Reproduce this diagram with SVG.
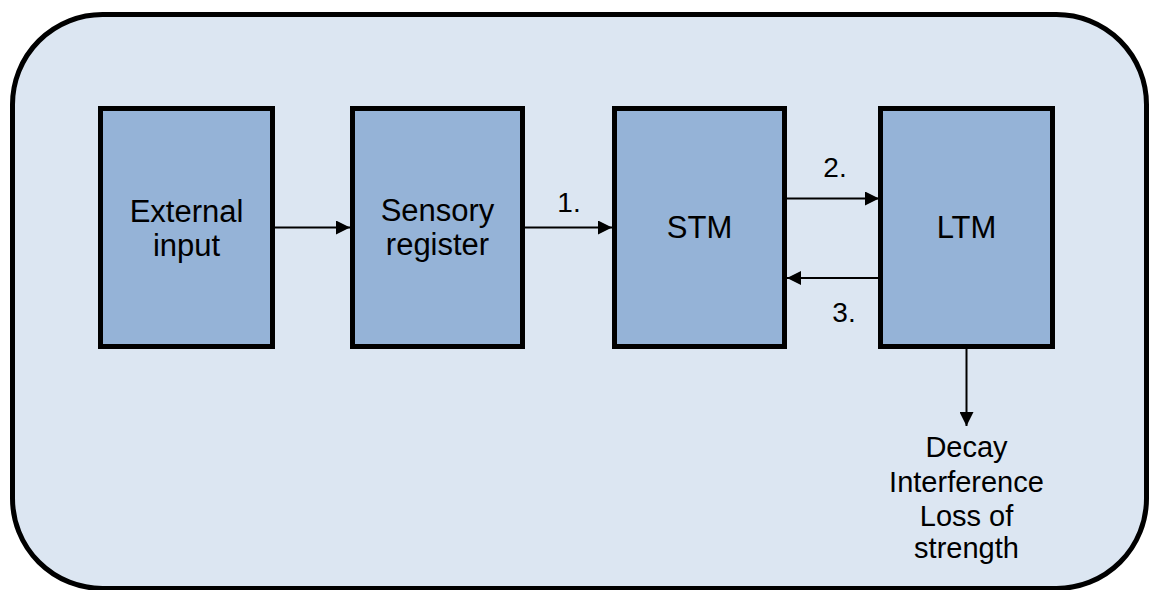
<svg xmlns="http://www.w3.org/2000/svg" width="1149" height="590" viewBox="0 0 1149 590">
<style>
.box{fill:#95b3d7;stroke:#000;stroke-width:5}
.lbl{font-family:"Liberation Sans",Arial,sans-serif;font-size:31px;fill:#000;text-anchor:middle}
.num{font-family:"Liberation Sans",Arial,sans-serif;font-size:28px;fill:#000;text-anchor:middle}
.out{font-family:"Liberation Sans",Arial,sans-serif;font-size:29px;fill:#000;text-anchor:middle}
.con{stroke:#000;stroke-width:2;fill:none;marker-end:url(#ah)}
</style>
<defs>
<marker id="ah" markerUnits="userSpaceOnUse" markerWidth="14" markerHeight="14" viewBox="0 0 14 14" refX="14" refY="7" orient="auto">
<path d="M0,0 L14,7 L0,14 Z" fill="#000"/>
</marker>
</defs>
<rect id="frame" x="12.5" y="14.5" width="1134" height="574" rx="90" ry="90" fill="#dce6f2" stroke="#000" stroke-width="5"/>
<g id="external">
<rect class="box" x="100.5" y="108.5" width="172" height="238"/>
<text class="lbl" x="186.5" y="222">External</text>
<text class="lbl" x="186.5" y="256">input</text>
</g>
<g id="sensory">
<rect class="box" x="352.5" y="108.5" width="170" height="238"/>
<text class="lbl" x="437.5" y="221">Sensory</text>
<text class="lbl" x="437.5" y="255">register</text>
</g>
<g id="stm">
<rect class="box" x="614.5" y="108.5" width="170" height="238"/>
<text class="lbl" x="699.5" y="238">STM</text>
</g>
<g id="ltm">
<rect class="box" x="880.5" y="108.5" width="172" height="238"/>
<text class="lbl" x="966.5" y="238">LTM</text>
</g>
<g id="connectors">
<line class="con" x1="275" y1="227.5" x2="350" y2="227.5"/>
<line class="con" x1="525" y1="227.5" x2="612" y2="227.5"/>
<line class="con" x1="787" y1="198.5" x2="879" y2="198.5"/>
<line class="con" x1="878" y1="278" x2="787" y2="278"/>
<line class="con" x1="966.5" y1="349" x2="966.5" y2="426"/>
<text class="num" x="569" y="212">1.</text>
<text class="num" x="835" y="177">2.</text>
<text class="num" x="844" y="322">3.</text>
</g>
<g id="outcomes">
<text class="out" x="966.5" y="457">Decay</text>
<text class="out" x="966.5" y="492">Interference</text>
<text class="out" x="966.5" y="526">Loss of</text>
<text class="out" x="966.5" y="558">strength</text>
</g>
</svg>
